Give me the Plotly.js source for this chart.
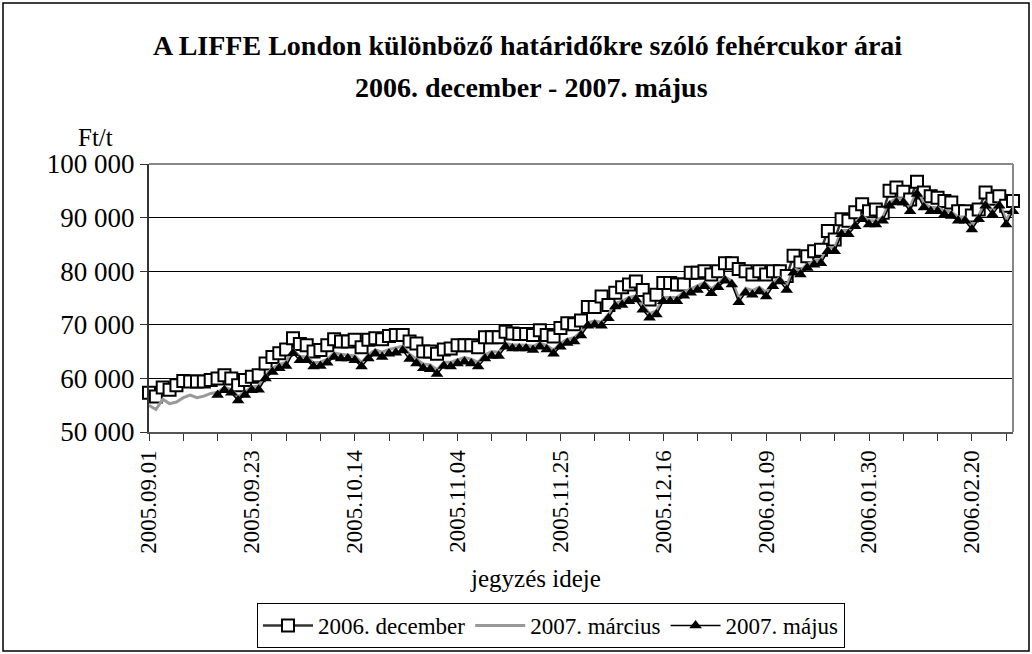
<!DOCTYPE html>
<html>
<head>
<meta charset="utf-8">
<script src="https://cdn.plot.ly/plotly-3.0.1.min.js"></script>
<style>
  html, body { margin: 0; padding: 0; background: #fff; }
  #chart { width: 1032px; height: 654px; }
</style>
</head>
<body>
<div id="chart"></div>
<script>
// ========== Data ==========
// trading days (jegyzés ideje)
const dates = [
  '2005.09.01','2005.09.02','2005.09.06','2005.09.07','2005.09.08','2005.09.09',
  '2005.09.12','2005.09.13','2005.09.14','2005.09.15','2005.09.16',
  '2005.09.19','2005.09.20','2005.09.21','2005.09.22','2005.09.23',
  '2005.09.26','2005.09.27','2005.09.28','2005.09.29','2005.09.30',
  '2005.10.03','2005.10.04','2005.10.05','2005.10.06','2005.10.07',
  '2005.10.10','2005.10.11','2005.10.12','2005.10.13','2005.10.14',
  '2005.10.17','2005.10.18','2005.10.19','2005.10.20','2005.10.21',
  '2005.10.24','2005.10.25','2005.10.26','2005.10.27','2005.10.28',
  '2005.10.31','2005.11.01','2005.11.02','2005.11.03','2005.11.04',
  '2005.11.07','2005.11.08','2005.11.09','2005.11.10','2005.11.11',
  '2005.11.14','2005.11.15','2005.11.16','2005.11.17','2005.11.18',
  '2005.11.21','2005.11.22','2005.11.23','2005.11.24','2005.11.25',
  '2005.11.28','2005.11.29','2005.11.30','2005.12.01','2005.12.02',
  '2005.12.05','2005.12.06','2005.12.07','2005.12.08','2005.12.09',
  '2005.12.12','2005.12.13','2005.12.14','2005.12.15','2005.12.16',
  '2005.12.19','2005.12.20','2005.12.21','2005.12.22','2005.12.23',
  '2005.12.27','2005.12.28','2005.12.29','2005.12.30',
  '2006.01.02','2006.01.03','2006.01.04','2006.01.05','2006.01.06',
  '2006.01.09','2006.01.10','2006.01.11','2006.01.12','2006.01.13',
  '2006.01.16','2006.01.17','2006.01.18','2006.01.19','2006.01.20',
  '2006.01.23','2006.01.24','2006.01.25','2006.01.26','2006.01.27',
  '2006.01.30','2006.01.31','2006.02.01','2006.02.02','2006.02.03',
  '2006.02.06','2006.02.07','2006.02.08','2006.02.09','2006.02.10',
  '2006.02.13','2006.02.14','2006.02.15','2006.02.16','2006.02.17',
  '2006.02.20','2006.02.21','2006.02.22','2006.02.23','2006.02.24',
  '2006.02.27','2006.02.28'
];

// 2006. december (Ft/t)
const dec2006 = [
  57300, 56600, 58300, 57900, 58700, 59500, 59400, 59400, 59400, 59700,
  60000, 60600, 60000, 58700, 59700, 60300, 60600, 62800, 64000, 64700,
  65400, 67500, 66400, 66200, 65000, 65300, 66200, 67300, 66900, 66900,
  67200, 65800, 67200, 67500, 67300, 67900, 68100, 68100, 66900, 66500,
  65000, 65000, 64600, 65400, 65600, 66200, 66200, 66200, 65800, 67700,
  67700, 67700, 68700, 68400, 68300, 68300, 68100, 69000, 68100, 67800,
  69400, 70300, 70100, 70800, 73300, 73300, 75300, 73700, 76000, 77000,
  77500, 78100, 76500, 74700, 75600, 77800, 77800, 77500, 77500, 79700,
  79700, 80000, 79400, 80000, 81500, 81500, 80400, 80000, 79400, 80000,
  79400, 80000, 80000, 79100, 82900, 81600, 82800, 83700, 84000, 87500,
  85900, 89700, 89400, 91000, 92500, 91200, 91500, 90900, 95000, 95600,
  94800, 93400, 96700, 94700, 94000, 93700, 93100, 92800, 91200, 91200,
  90400, 91500, 94700, 93500, 94000, 92200, 93100
];

// 2007. március (Ft/t)
const mar2007 = [
  55000, 54200, 56100, 55300, 55600, 56400, 56900, 56400, 56700, 57200,
  57400, 58300, 57900, 56600, 57500, 58400, 58600, 60600, 61900, 62600,
  63000, 65300, 64100, 64000, 62900, 63000, 63600, 64700, 64500, 64400,
  64200, 63000, 64400, 65300, 64900, 65400, 65700, 66000, 64500, 63600,
  62700, 62500, 61600, 63000, 63000, 63500, 63900, 63600, 63000, 64400,
  65000, 64900, 66500, 66300, 66300, 66200, 66000, 66600, 66100, 65300,
  66500, 67300, 67600, 68700, 70400, 70700, 70500, 71900, 74000, 74400,
  75100, 75400, 73600, 72100, 72600, 75100, 75100, 75100, 76100, 76700,
  77200, 77900, 76700, 77700, 78900, 78200, 75000, 76800, 76400, 77000,
  76100, 77900, 78800, 77300, 80400, 80100, 81300, 81900, 82200, 84400,
  84400, 87600, 87600, 89100, 90400, 89400, 89400, 90100, 92900, 93500,
  93500, 91900, 95100, 92600, 91900, 91900, 91300, 91000, 90100, 90100,
  88500, 90400, 92900, 91300, 92900, 89400, 91900
];

// 2007. május (Ft/t) - no quotes for the first days
const may2007 = [
  null, null, null, null, null, null, null, null, null, null,
  56900, 57800, 57300, 55900, 56900, 57800, 57900, 60000, 61200, 61900,
  62300, 64700, 63400, 63400, 62200, 62300, 62900, 64000, 63700, 63700,
  63400, 62200, 63700, 64600, 64000, 64600, 64800, 65200, 63600, 62800,
  61900, 61700, 60800, 62300, 62200, 62800, 63100, 62800, 62200, 63700,
  64200, 64200, 65900, 65600, 65600, 65600, 65300, 65900, 65400, 64600,
  65900, 66600, 66900, 68000, 69800, 70000, 69800, 71200, 73400, 73700,
  74400, 74700, 72800, 71300, 71900, 74400, 74400, 74400, 75400, 76000,
  76500, 77200, 75900, 77000, 78200, 77500, 74200, 76000, 75600, 76200,
  75300, 77200, 78100, 76500, 79700, 79400, 80600, 81200, 81500, 83700,
  83700, 86900, 86900, 88400, 89700, 88700, 88700, 89400, 92200, 92800,
  92800, 91200, 94400, 91900, 91200, 91200, 90600, 90300, 89400, 89400,
  87800, 89700, 92200, 90600, 92200, 88700, 91200
];

const seriesNames = ['2006. december', '2007. március', '2007. május'];
const titleLines = [
  'A LIFFE London különböző határidőkre szóló fehércukor árai',
  '2006. december - 2007. május'
];

// tick every 5th day, label every 15th
const tickVals = dates.filter((d, i) => i % 5 === 0);
const tickText = dates.map((d, i) => (i % 15 === 0 ? d : '')).filter((d, i) => i % 5 === 0);

// ========== Chart ==========
const FONT = '"Liberation Serif", "Times New Roman", serif';

// plot area in pixels (used to place frame, title lines, labels)
const M = { l: 149, r: 19, t: 164, b: 222, autoexpand: false };
const PW = 1032 - M.l - M.r;
const PH = 654 - M.t - M.b;
const px = x => (x - M.l) / PW;
const py = y => (654 - M.b - y) / PH;

const traces = [
  {
    x: dates, y: dec2006, name: seriesNames[0],
    type: 'scatter', mode: 'lines+markers', cliponaxis: false,
    line: { color: '#333333', width: 2.5 },
    marker: { symbol: 'square', size: 12, color: '#ffffff', line: { color: '#000000', width: 2 } }
  },
  {
    x: dates, y: mar2007, name: seriesNames[1],
    type: 'scatter', mode: 'lines', cliponaxis: false,
    line: { color: '#999999', width: 3 }
  },
  {
    x: dates, y: may2007, name: seriesNames[2],
    type: 'scatter', mode: 'lines+markers', cliponaxis: false,
    line: { color: '#000000', width: 1.5 },
    marker: { symbol: 'triangle-up', size: 11, color: '#000000' }
  }
];

const layout = {
  width: 1032, height: 654,
  margin: M,
  paper_bgcolor: '#ffffff', plot_bgcolor: '#ffffff',
  font: { family: FONT, size: 24, color: '#000000' },
  separators: ', ',
  showlegend: true,
  xaxis: {
    type: 'category',
    range: [0, dates.length - 1],
    tickmode: 'array', tickvals: tickVals, ticktext: tickText,
    tickangle: -90,
    ticks: 'outside', ticklen: 7, tickcolor: '#333333', tickwidth: 1,
    tickfont: { family: FONT, size: 23 },
    showgrid: false, zeroline: false, automargin: false,
    showline: true, linecolor: '#555555', linewidth: 2, mirror: false
  },
  yaxis: {
    range: [50000, 100000], dtick: 10000, tickformat: ',d',
    ticks: 'outside', ticklen: 7, tickcolor: '#333333', tickwidth: 1,
    tickfont: { family: FONT, size: 27 },
    showgrid: true, gridcolor: '#000000', gridwidth: 1,
    zeroline: false, automargin: false,
    showline: true, linecolor: '#333333', linewidth: 2
  },
  legend: {
    orientation: 'h',
    x: px(257), xanchor: 'left',
    y: py(648), yanchor: 'bottom',
    bordercolor: '#000000', borderwidth: 1,
    font: { family: FONT, size: 23 },
    itemwidth: 50, tracegroupgap: 0
  },
  annotations: [
    { text: '<b>' + titleLines[0] + '</b>', xref: 'paper', yref: 'paper', x: px(527), y: py(46),
      xanchor: 'center', yanchor: 'middle', showarrow: false, font: { family: FONT, size: 28 } },
    { text: '<b>' + titleLines[1] + '</b>', xref: 'paper', yref: 'paper', x: px(531), y: py(87),
      xanchor: 'center', yanchor: 'middle', showarrow: false, font: { family: FONT, size: 28 } },
    { text: 'Ft/t', xref: 'paper', yref: 'paper', x: px(95), y: py(137),
      xanchor: 'center', yanchor: 'middle', showarrow: false, font: { family: FONT, size: 25 } },
    { text: 'jegyzés ideje', xref: 'paper', yref: 'paper', x: px(535), y: py(578),
      xanchor: 'center', yanchor: 'middle', showarrow: false, font: { family: FONT, size: 25 } }
  ],
  shapes: [
    // plot area frame (top and right sides)
    { type: 'line', xref: 'paper', yref: 'paper', x0: 0, x1: 1, y0: 1, y1: 1, line: { color: '#888888', width: 2 } },
    { type: 'line', xref: 'paper', yref: 'paper', x0: 1, x1: 1, y0: 0, y1: 1, line: { color: '#888888', width: 2 } },
    // outer chart border
    { type: 'rect', xref: 'paper', yref: 'paper', layer: 'below',
      x0: px(3), x1: px(1029), y0: py(651), y1: py(3), line: { color: '#000000', width: 1.5 } }
  ]
};

Plotly.newPlot('chart', traces, layout, { staticPlot: true });
</script>
</body>
</html>
